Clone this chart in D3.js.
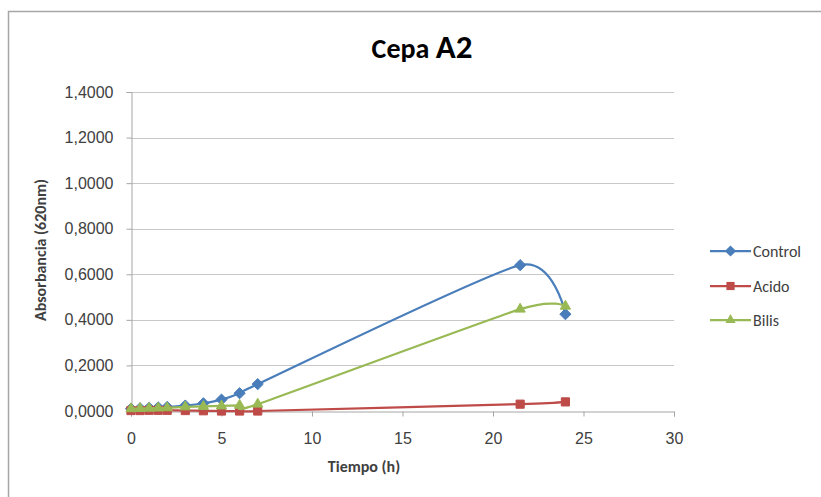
<!DOCTYPE html>
<html><head><meta charset="utf-8">
<script src="https://cdn.jsdelivr.net/npm/d3@7"></script>
<style>body{margin:0;background:#fff;} svg{display:block;font-family:Carlito,"Open Sans","Noto Sans",sans-serif;}</style>
</head><body>
<script>
const times = [0, 0.5, 1, 1.5, 2, 3, 4, 5, 6, 7, 21.5, 24];
const control = [0.010, 0.012, 0.014, 0.016, 0.018, 0.024, 0.034, 0.050, 0.078, 0.118, 0.640, 0.425];
const acido = [0.002, 0.002, 0.003, 0.003, 0.003, 0.002, 0.001, 0.000, 0.000, 0.000, 0.030, 0.040];
const bilis = [0.010, 0.011, 0.012, 0.013, 0.014, 0.018, 0.020, 0.022, 0.025, 0.030, 0.447, 0.460];
const seriesNames = ["Control", "Acido", "Bilis"];
const seriesColors = ["#4A7EBB", "#BE4B48", "#98B954"];
const yTicks = [0, 0.2, 0.4, 0.6, 0.8, 1.0, 1.2, 1.4];
const xTicks = [0, 5, 10, 15, 20, 25, 30];

const W = 821, H = 497;
const svg = d3.select("body").append("svg").attr("width", W).attr("height", H);
svg.append("rect").attr("x", 8.5).attr("y", 11.5).attr("width", 830).attr("height", 500)
  .attr("fill", "#fff").attr("stroke", "#a6a6a6").attr("stroke-width", 1.5);

const x = d3.scaleLinear().domain([0, 30]).range([131, 674]);
const y = d3.scaleLinear().domain([0, 1.4]).range([411, 92]);
const fmt = v => d3.format(".4f")(v).replace(".", ",");

// gridlines
svg.append("g").selectAll("line").data(yTicks.slice(1)).join("line")
  .attr("x1", x(0)).attr("x2", x(30)).attr("y1", d => Math.round(y(d)) + 0.5).attr("y2", d => Math.round(y(d)) + 0.5)
  .attr("stroke", "#c8c8c8").attr("stroke-width", 1);

// y axis
const yAxis = svg.append("g").attr("transform", `translate(${x(0)+0.5},0)`)
  .call(d3.axisLeft(y).tickValues(yTicks).tickFormat(fmt).tickSize(5).tickPadding(13));
yAxis.select(".domain").attr("stroke", "#a6a6a6");
yAxis.selectAll(".tick line").attr("stroke", "#a6a6a6");
yAxis.selectAll("text").attr("font-size", 16).attr("fill", "#404040");

// x axis
const xAxis = svg.append("g").attr("transform", `translate(0,${Math.round(y(0))+0.5})`)
  .call(d3.axisBottom(x).tickValues(xTicks).tickFormat(d3.format("d")).tickSize(5).tickPadding(16));
xAxis.select(".domain").attr("stroke", "#a6a6a6");
xAxis.selectAll(".tick line").attr("stroke", "#a6a6a6");
xAxis.selectAll("text").attr("font-size", 16).attr("fill", "#404040");

// titles
const title = svg.append("text").attr("x", 422).attr("y", 58).attr("text-anchor", "middle")
  .attr("font-weight", "bold").attr("fill", "#000");
title.append("tspan").attr("font-size", 28).text("Cepa ");
title.append("tspan").attr("font-size", 33).text("A2");

svg.append("text").attr("x", 364).attr("y", 472).attr("text-anchor", "middle")
  .attr("font-size", 16).attr("font-weight", "bold").attr("fill", "#404040").text("Tiempo (h)");
svg.append("text").attr("transform", "translate(46,250) rotate(-90)").attr("text-anchor", "middle")
  .attr("font-size", 16).attr("font-weight", "bold").attr("fill", "#404040").text("Absorbancia (620nm)");

const data = [control, acido, bilis];
const line = d3.line().x(d => x(d[0])).y(d => y(d[1])).curve(d3.curveCardinal.tension(0.35));
const symbols = [d3.symbolDiamond2, d3.symbolSquare2, d3.symbolTriangle2];
const symSizes = [80, 85, 75];

data.forEach((vals, i) => {
  const pts = times.map((t, j) => [t, vals[j]]);
  const g = svg.append("g");
  g.append("path").datum(pts).attr("d", line).attr("fill", "none")
    .attr("stroke", seriesColors[i]).attr("stroke-width", 2.25);
  g.selectAll("path.m").data(pts).join("path").attr("class", "m")
    .attr("transform", d => `translate(${x(d[0])},${y(d[1])})`)
    .attr("d", d3.symbol().type(symbols[i]).size(symSizes[i]))
    .attr("fill", seriesColors[i]).attr("stroke", seriesColors[i]).attr("stroke-width", 1);
});

// legend
const lg = svg.append("g");
[251, 286, 320].forEach((ly, i) => {
  lg.append("line").attr("x1", 710).attr("x2", 751).attr("y1", ly).attr("y2", ly)
    .attr("stroke", seriesColors[i]).attr("stroke-width", 2.25);
  lg.append("path").attr("transform", `translate(730.5,${ly})`)
    .attr("d", d3.symbol().type(symbols[i]).size(symSizes[i])).attr("fill", seriesColors[i]);
  lg.append("text").attr("x", 753).attr("y", ly + 5.5).attr("font-size", 16).attr("fill", "#404040").text(seriesNames[i]);
});
</script>
</body></html>
